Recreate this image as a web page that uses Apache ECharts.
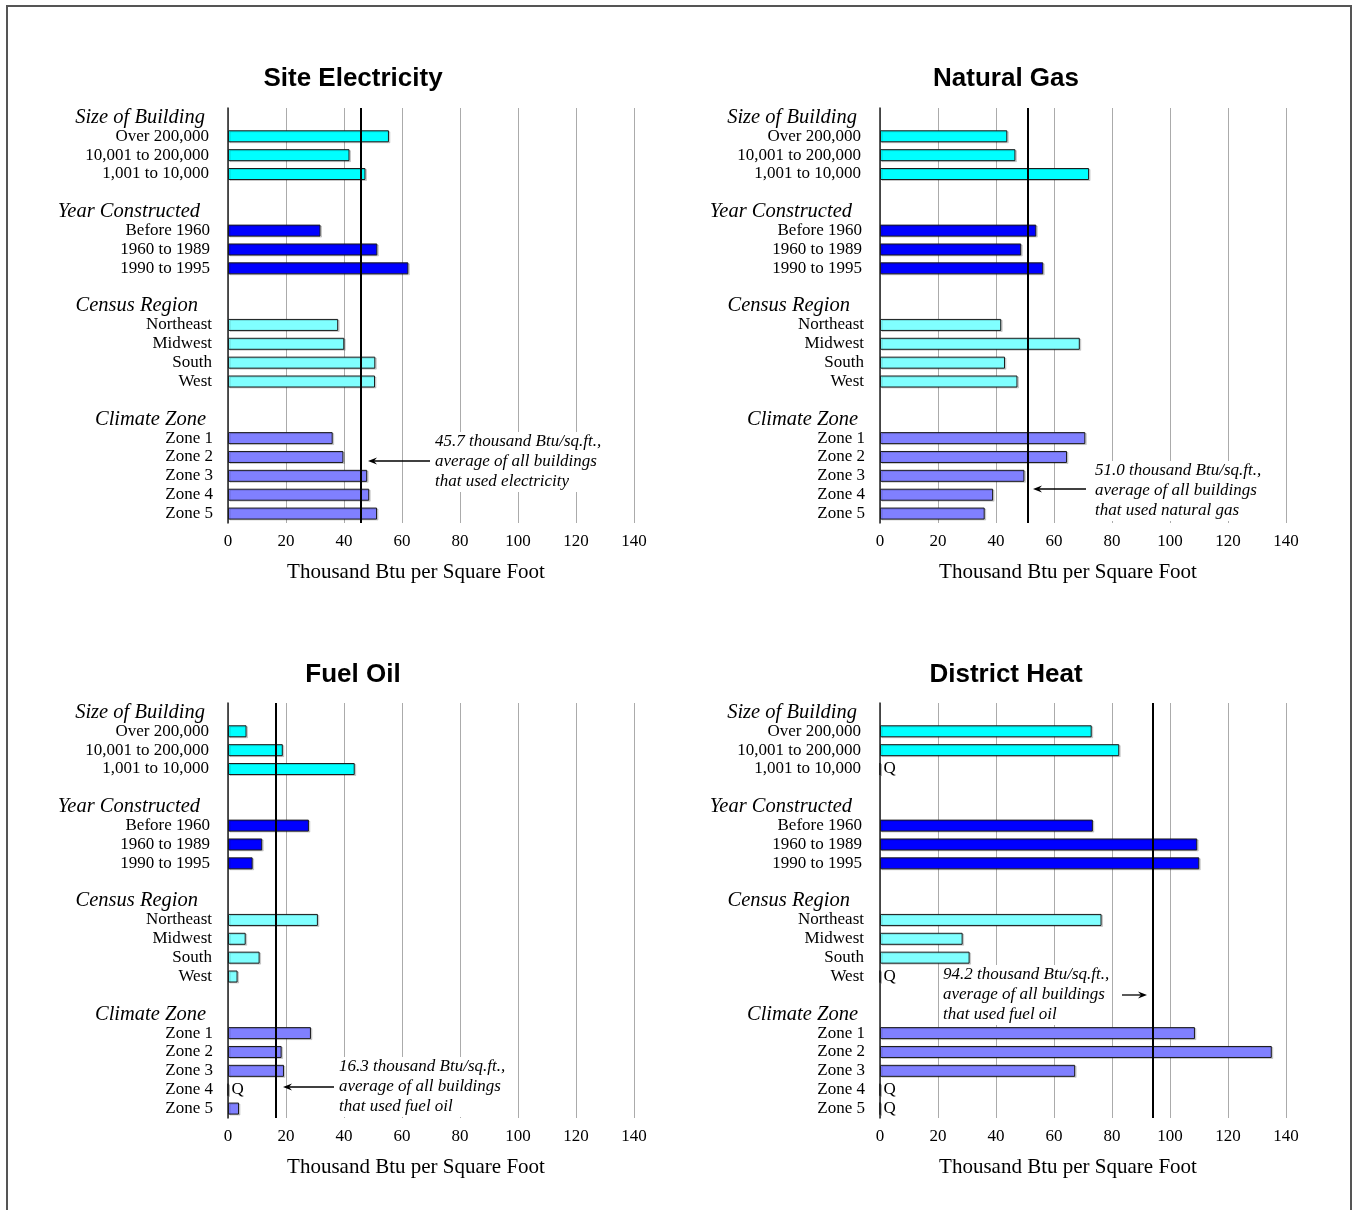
<!DOCTYPE html>
<html>
<head>
<meta charset="utf-8">
<script src="https://cdn.jsdelivr.net/npm/echarts@6/dist/echarts.min.js"></script>
<style>
  html, body { margin: 0; padding: 0; background: #fff; }
  #chart { width: 1353px; height: 1210px; }
</style>
</head>
<body>
<div id="chart"></div>
<script>
  // category groups
  let groupNames = ['Size of Building', 'Year Constructed', 'Census Region', 'Climate Zone']
  let sizeCats = ['Over 200,000', '10,001 to 200,000', '1,001 to 10,000']
  let yearCats = ['Before 1960', '1960 to 1989', '1990 to 1995']
  let regionCats = ['Northeast', 'Midwest', 'South', 'West']
  let zoneCats = ['Zone 1', 'Zone 2', 'Zone 3', 'Zone 4', 'Zone 5']
  let xTicks = [0, 20, 40, 60, 80, 100, 120, 140]

  // thousand Btu per sq ft, order = size, year, region, zone; null = Q
  let electricity = [55.5, 41.9, 47.4, 31.9, 51.5, 62.2, 38.0, 40.1, 50.8, 50.7, 36.1, 39.8, 48.0, 48.7, 51.4]
  let naturalGas = [43.9, 46.7, 72.1, 53.9, 48.7, 56.3, 41.8, 68.9, 43.1, 47.4, 70.8, 64.5, 49.8, 39.0, 36.1]
  let fuelOil = [6.4, 18.9, 43.7, 27.9, 11.8, 8.5, 31.0, 6.1, 10.9, 3.3, 28.6, 18.5, 19.3, null, 3.8]
  let districtHeat = [73.0, 82.5, null, 73.4, 109.4, 110.1, 76.4, 28.5, 30.9, null, 108.6, 135.1, 67.3, null, null]

  let averages = [45.7, 51.0, 16.3, 94.2]
  let titles = ['Site Electricity', 'Natural Gas', 'Fuel Oil', 'District Heat']
  let notes = [
    '45.7 thousand Btu/sq.ft.,\naverage of all buildings\nthat used electricity',
    '51.0 thousand Btu/sq.ft.,\naverage of all buildings\nthat used natural gas',
    '16.3 thousand Btu/sq.ft.,\naverage of all buildings\nthat used fuel oil',
    '94.2 thousand Btu/sq.ft.,\naverage of all buildings\nthat used fuel oil'
  ]
  let groupColors = ['#00ffff', '#0000ff', '#80ffff', '#8080ff']

  // panel placement
  let panels = [
    { left: 228, top: 108, titleX: 353, titleY: 66 },
    { left: 880, top: 108, titleX: 1006, titleY: 66 },
    { left: 228, top: 703, titleX: 353, titleY: 662 },
    { left: 880, top: 703, titleX: 1006, titleY: 662 }
  ]
  // label right padding per group (headings / items)
  let headPad = [8, 13, 15, 7]
  let itemPad = [4, 3, 1, 0]
  // annotation text position + arrow [x1, x2, y] (arrow points to x2)
  let noteBoxes = [
    { x: 433, y: 432, arrow: [430, 368, 461] },
    { x: 1093, y: 461, arrow: [1086, 1033, 489] },
    { x: 337, y: 1057, arrow: [334, 283, 1087] },
    { x: 941, y: 965, arrow: [1122, 1147, 995] }
  ]

  let serif = '"Liberation Serif", "Times New Roman", serif'

  // build the 22 slot rows: heading, items, blank spacer
  let slots = []
  ;[sizeCats, yearCats, regionCats, zoneCats].forEach((cats, g) => {
    slots.push({ kind: 'head', label: groupNames[g], group: g })
    cats.forEach(c => slots.push({ kind: 'item', label: c, group: g }))
    if (g < 3) slots.push({ kind: 'blank', label: '', group: g })
  })
  let slotKeys = slots.map((s, i) => s.kind + i)

  let rich = {}
  groupNames.forEach((g, i) => {
    rich['h' + i] = { fontFamily: serif, fontStyle: 'italic', fontSize: 20.5, color: '#000', padding: [0, headPad[i], 0, 0] }
    rich['n' + i] = { fontFamily: serif, fontSize: 17, color: '#000', padding: [0, itemPad[i], 0, 0] }
  })

  function buildData(values) {
    let k = 0
    return slots.map(s => {
      if (s.kind !== 'item') return '-'
      let v = values[k++]
      let color = groupColors[s.group]
      if (v === null) {
        return {
          value: 0,
          itemStyle: { color: color },
          label: { show: true, formatter: 'Q' }
        }
      }
      return { value: v, itemStyle: { color: color } }
    })
  }

  let grids = []
  let xAxes = []
  let yAxes = []
  let series = []
  let titleList = []
  let graphics = []

  ;[electricity, naturalGas, fuelOil, districtHeat].forEach((values, i) => {
    let p = panels[i]
    grids.push({ left: p.left, top: p.top, width: 406, height: 415 })
    xAxes.push({
      gridIndex: i,
      type: 'value',
      min: xTicks[0],
      max: xTicks[xTicks.length - 1],
      interval: 20,
      name: 'Thousand Btu per Square Foot',
      nameLocation: 'middle',
      nameGap: 39,
      nameTextStyle: { fontFamily: serif, fontSize: 21, color: '#000', padding: [0, 30, 0, 0] },
      axisLine: { show: false },
      axisTick: { show: false },
      axisLabel: { margin: 10, fontFamily: serif, fontSize: 17, color: '#000' },
      splitLine: { show: true, lineStyle: { color: '#ababab', width: 1 } }
    })
    yAxes.push({
      gridIndex: i,
      type: 'category',
      inverse: true,
      data: slotKeys,
      axisLine: { show: true, lineStyle: { color: '#222', width: 1.5 } },
      axisTick: { show: false },
      axisLabel: {
        interval: 0,
        margin: 15,
        formatter: (v, idx) => {
          let s = slots[idx]
          if (s.kind === 'head') return '{h' + s.group + '|' + s.label + '}'
          if (s.kind === 'item') return '{n' + s.group + '|' + s.label + '}'
          return ''
        },
        rich: rich
      },
      splitLine: { show: false }
    })
    series.push({
      type: 'bar',
      xAxisIndex: i,
      yAxisIndex: i,
      barWidth: 12,
      data: buildData(values),
      itemStyle: {
        borderColor: '#1a1a1a',
        borderWidth: 1,
        shadowColor: 'rgba(0,0,0,0.15)',
        shadowOffsetX: 1.5,
        shadowOffsetY: 1
      },
      label: {
        show: false,
        position: 'right',
        distance: 3,
        fontFamily: serif,
        fontSize: 17,
        color: '#000'
      },
      markLine: {
        silent: true,
        symbol: 'none',
        animation: false,
        label: { show: false },
        lineStyle: { color: '#000', width: 2, type: 'solid' },
        data: [{ xAxis: averages[i] }]
      },
      animation: false
    })
    titleList.push({
      text: titles[i],
      left: p.titleX,
      top: p.titleY,
      textAlign: 'center',
      padding: 0,
      textStyle: { fontFamily: '"Liberation Sans", Arial, sans-serif', fontWeight: 'bold', fontSize: 26, color: '#000' }
    })

    let nb = noteBoxes[i]
    graphics.push({
      type: 'text',
      left: nb.x,
      top: nb.y,
      z: 10,
      style: {
        text: notes[i],
        font: 'italic 17px ' + serif,
        lineHeight: 20,
        fill: '#000',
        backgroundColor: '#fff',
        padding: [0, 2, 0, 2]
      }
    })
    let a = nb.arrow
    let dir = a[1] < a[0] ? -1 : 1
    graphics.push({
      type: 'line',
      z: 10,
      shape: { x1: a[0], y1: a[2], x2: a[1] - dir * 6, y2: a[2] },
      style: { stroke: '#000', lineWidth: 1.3 }
    })
    graphics.push({
      type: 'polygon',
      z: 10,
      shape: { points: [[a[1], a[2]], [a[1] - dir * 9, a[2] - 3.5], [a[1] - dir * 6, a[2]], [a[1] - dir * 9, a[2] + 3.5]] },
      style: { fill: '#000' }
    })
  })

  // outer frame
  graphics.push({
    type: 'rect',
    z: 20,
    shape: { x: 7, y: 6, width: 1344, height: 1220 },
    style: { fill: 'none', stroke: '#555', lineWidth: 2 }
  })

  let chart = echarts.init(document.getElementById('chart'), null, { renderer: 'canvas' })
  chart.setOption({
    backgroundColor: '#fff',
    animation: false,
    title: titleList,
    grid: grids,
    xAxis: xAxes,
    yAxis: yAxes,
    series: series,
    graphic: graphics
  })
</script>
</body>
</html>
